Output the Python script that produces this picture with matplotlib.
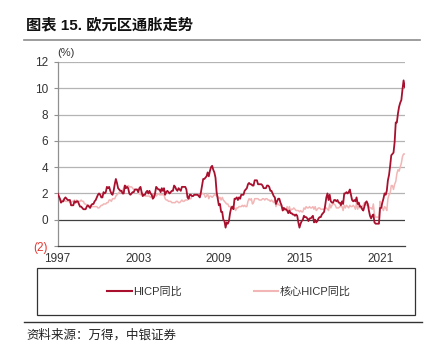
import numpy as np
import matplotlib.pyplot as plt
from matplotlib.lines import Line2D
from matplotlib.patches import Rectangle

# euro area HICP y/y (%), monthly, Jan 1997 - Nov 2022
hicp = [
    2.0, 1.8, 1.6, 1.3, 1.4, 1.4, 1.6, 1.7, 1.6, 1.5, 1.5, 1.5,  # 1997
    1.1, 1.1, 1.1, 1.4, 1.3, 1.4, 1.4, 1.2, 1.0, 1.0, 0.9, 0.8,  # 1998
    0.8, 0.8, 1.0, 1.1, 1.0, 0.9, 1.1, 1.2, 1.2, 1.4, 1.5, 1.7,  # 1999
    1.9, 2.0, 1.9, 1.7, 1.7, 2.1, 2.0, 2.1, 2.5, 2.4, 2.5, 2.2,  # 2000
    2.0, 1.9, 2.2, 2.7, 3.1, 2.8, 2.4, 2.3, 2.2, 2.2, 2.0, 2.0,  # 2001
    2.6, 2.4, 2.5, 2.4, 2.0, 1.9, 2.0, 2.1, 2.1, 2.3, 2.3, 2.3,  # 2002
    2.1, 2.4, 2.5, 2.1, 1.8, 1.9, 1.9, 2.1, 2.2, 2.0, 2.2, 2.0,  # 2003
    1.9, 1.6, 1.7, 2.0, 2.5, 2.4, 2.3, 2.3, 2.1, 2.4, 2.2, 2.4,  # 2004
    1.9, 2.1, 2.2, 2.1, 2.0, 2.1, 2.2, 2.2, 2.6, 2.5, 2.3, 2.2,  # 2005
    2.4, 2.3, 2.2, 2.5, 2.5, 2.5, 2.5, 2.3, 1.7, 1.6, 1.9, 1.9,  # 2006
    1.8, 1.8, 1.9, 1.9, 1.9, 1.9, 1.8, 1.7, 2.1, 2.6, 3.1, 3.1,  # 2007
    3.2, 3.3, 3.6, 3.3, 3.7, 4.0, 4.1, 3.8, 3.6, 3.2, 2.1, 1.6,  # 2008
    1.1, 1.2, 0.6, 0.6, 0.0, -0.1, -0.6, -0.2, -0.3, -0.1, 0.5, 0.9,  # 2009
    1.0, 0.8, 1.6, 1.6, 1.7, 1.5, 1.7, 1.6, 1.9, 1.9, 1.9, 2.2,  # 2010
    2.3, 2.4, 2.7, 2.8, 2.7, 2.7, 2.6, 2.6, 3.0, 3.0, 3.0, 2.7,  # 2011
    2.7, 2.7, 2.7, 2.6, 2.4, 2.4, 2.4, 2.6, 2.6, 2.5, 2.2, 2.2,  # 2012
    2.0, 1.8, 1.7, 1.2, 1.4, 1.6, 1.6, 1.3, 1.1, 0.7, 0.9, 0.8,  # 2013
    0.8, 0.7, 0.5, 0.7, 0.5, 0.5, 0.4, 0.4, 0.3, 0.4, 0.3, -0.2,  # 2014
    -0.6, -0.3, -0.1, 0.0, 0.3, 0.2, 0.2, 0.1, -0.1, 0.1, 0.1, 0.2,  # 2015
    0.3, -0.2, 0.0, -0.2, -0.1, 0.1, 0.2, 0.2, 0.4, 0.5, 0.6, 1.1,  # 2016
    1.7, 2.0, 1.5, 1.9, 1.4, 1.3, 1.3, 1.5, 1.5, 1.4, 1.5, 1.3,  # 2017
    1.3, 1.1, 1.4, 1.2, 2.0, 2.0, 2.1, 2.0, 2.1, 2.3, 1.9, 1.5,  # 2018
    1.4, 1.5, 1.4, 1.7, 1.2, 1.3, 1.0, 1.0, 0.8, 0.7, 1.0, 1.3,  # 2019
    1.4, 1.2, 0.7, 0.3, 0.1, 0.3, 0.4, -0.2, -0.3, -0.3, -0.3, -0.3,  # 2020
    0.9, 0.9, 1.3, 1.6, 2.0, 1.9, 2.2, 3.0, 3.4, 4.1, 4.9, 5.0,  # 2021
    5.1, 5.9, 7.4, 7.4, 8.1, 8.6, 8.9, 9.1, 9.9, 10.6, 10.1,  # 2022
]

# core HICP y/y (%)
core = [
    1.9, 1.8, 1.6, 1.4, 1.5, 1.4, 1.5, 1.4, 1.4, 1.4, 1.4, 1.3,  # 1997
    1.3, 1.4, 1.4, 1.5, 1.4, 1.5, 1.4, 1.4, 1.4, 1.5, 1.4, 1.4,  # 1998
    1.2, 1.2, 1.1, 1.1, 1.0, 1.1, 1.0, 1.0, 1.0, 1.0, 1.0, 1.0,  # 1999
    0.9, 0.9, 1.0, 1.1, 1.1, 1.2, 1.2, 1.2, 1.3, 1.3, 1.5, 1.5,  # 2000
    1.4, 1.6, 1.6, 1.6, 1.8, 1.9, 2.0, 2.1, 2.1, 2.2, 2.2, 2.4,  # 2001
    2.6, 2.6, 2.5, 2.6, 2.5, 2.5, 2.5, 2.4, 2.3, 2.3, 2.3, 2.3,  # 2002
    2.0, 2.0, 1.9, 2.1, 1.8, 1.9, 1.8, 1.8, 1.8, 1.8, 1.8, 1.7,  # 2003
    1.8, 1.9, 1.8, 2.0, 1.8, 1.9, 2.0, 1.9, 1.9, 1.9, 1.9, 1.9,  # 2004
    1.6, 1.5, 1.5, 1.4, 1.4, 1.4, 1.3, 1.3, 1.3, 1.3, 1.4, 1.4,  # 2005
    1.3, 1.3, 1.4, 1.5, 1.4, 1.4, 1.5, 1.5, 1.5, 1.6, 1.6, 1.6,  # 2006
    1.8, 1.8, 1.9, 1.9, 1.9, 1.9, 1.9, 1.9, 1.9, 2.0, 2.0, 1.9,  # 2007
    1.7, 1.8, 2.0, 1.6, 1.8, 1.8, 1.7, 1.8, 1.9, 1.9, 1.8, 1.8,  # 2008
    1.6, 1.7, 1.5, 1.7, 1.5, 1.4, 1.3, 1.2, 1.2, 1.0, 1.0, 1.0,  # 2009
    0.9, 0.8, 0.9, 0.7, 0.9, 0.9, 1.0, 1.0, 1.0, 1.1, 1.0, 1.1,  # 2010
    1.0, 1.0, 1.4, 1.6, 1.5, 1.6, 1.2, 1.3, 1.6, 1.6, 1.6, 1.6,  # 2011
    1.5, 1.5, 1.5, 1.6, 1.6, 1.5, 1.6, 1.6, 1.5, 1.5, 1.4, 1.5,  # 2012
    1.4, 1.3, 1.5, 1.0, 1.2, 1.2, 1.1, 1.1, 1.0, 0.8, 0.9, 0.7,  # 2013
    0.8, 1.0, 0.7, 1.0, 0.7, 0.8, 0.8, 0.9, 0.8, 0.7, 0.7, 0.7,  # 2014
    0.6, 0.7, 0.6, 0.6, 0.9, 0.8, 1.0, 0.9, 0.9, 1.0, 0.9, 0.9,  # 2015
    1.0, 0.8, 1.0, 0.7, 0.8, 0.9, 0.9, 0.8, 0.8, 0.8, 0.8, 0.9,  # 2016
    0.9, 0.8, 0.7, 1.2, 0.9, 1.1, 1.2, 1.2, 1.1, 0.9, 0.9, 0.9,  # 2017
    1.0, 1.0, 1.0, 0.7, 1.1, 0.9, 1.1, 1.0, 0.9, 1.1, 1.0, 1.0,  # 2018
    1.1, 1.0, 0.8, 1.3, 0.8, 1.1, 0.9, 0.9, 1.0, 1.1, 1.3, 1.3,  # 2019
    1.1, 1.2, 1.0, 0.9, 0.9, 0.8, 1.2, 0.4, 0.2, 0.2, 0.2, 0.2,  # 2020
    1.4, 1.1, 0.9, 0.7, 1.0, 0.9, 0.7, 1.6, 1.9, 2.0, 2.6, 2.6,  # 2021
    2.3, 2.7, 2.9, 3.5, 3.8, 3.7, 4.0, 4.3, 4.8, 5.0, 5.0,  # 2022
]

years = [1997, 2003, 2009, 2015, 2021]
yticks = [-2, 0, 2, 4, 6, 8, 10, 12]
ylabels = ['(2)', '0', '2', '4', '6', '8', '10', '12']

t = 1997 + np.arange(len(hicp)) / 12.0

dark = '#A8102E'
light = '#F2B6B6'

plt.rcParams['font.family'] = ['Liberation Sans', 'Noto Sans CJK SC', 'DejaVu Sans']

fig = plt.figure(figsize=(4.4, 3.5), dpi=100)
ax = fig.add_axes([0.131, 0.297, 0.790, 0.526])

for y in yticks:
    if y == 0:
        ax.axhline(y, color='#404040', lw=0.9, zorder=1)
    elif y > 0:
        ax.axhline(y, color='#B4B4B4', lw=0.9, zorder=1)

ax.plot(t, core, color=light, lw=1.1, zorder=2)
ax.plot(t, hicp, color=dark, lw=1.3, zorder=3)

ax.set_xlim(1997, t[-1] + 0.04)
ax.set_ylim(-2, 12)
ax.set_yticks(yticks)
ax.set_yticklabels(ylabels)
ax.set_xticks(years)
ax.set_xticklabels([str(y) for y in years])

for s in ['top', 'right']:
    ax.spines[s].set_visible(False)
ax.spines['left'].set_color('#909090')
ax.spines['bottom'].set_color('#404040')
ax.spines['left'].set_linewidth(0.9)
ax.spines['bottom'].set_linewidth(0.9)
ax.tick_params(axis='y', length=3, width=0.8, color='#909090', labelsize=8.5, pad=4, labelcolor='#333333')
ax.tick_params(axis='x', length=0, labelsize=8.5, pad=5, labelcolor='#333333')
ax.get_yticklabels()[0].set_color('#E8362F')

ax.text(0.0, 1.02, '(%)', transform=ax.transAxes, fontsize=8, color='#333333', ha='left', va='bottom')

# title and rules
fig.text(0.06, 0.928, '图表 15. 欧元区通胀走势', fontsize=11, fontweight='bold',
         family=['Liberation Sans', 'Noto Sans CJK SC'], color='#111111', va='center')
fig.add_artist(Line2D([0.055, 0.955], [0.886, 0.886], color='#8C8C8C', lw=1.2))
fig.add_artist(Line2D([0.055, 0.96], [0.080, 0.080], color='#333333', lw=1.0))

# legend box
fig.add_artist(Rectangle((0.085, 0.1), 0.858, 0.134, transform=fig.transFigure,
                         fill=False, edgecolor='#333333', lw=0.9))
handles = [Line2D([], [], color=dark, lw=1.5), Line2D([], [], color=light, lw=1.5)]
leg = fig.legend(handles, ['HICP同比', '核心HICP同比'], loc='center',
                 bbox_to_anchor=(0.52, 0.167), ncol=2, frameon=False, fontsize=8,
                 handlelength=2.2, handletextpad=0.1, columnspacing=6.5)
for txt in leg.get_texts():
    txt.set_color('#333333')

fig.text(0.06, 0.042, '资料来源：万得，中银证券', fontsize=9, style='italic',
         family=['Noto Sans CJK SC'], color='#222222', va='center')

fig.savefig('out.png', dpi=100)
